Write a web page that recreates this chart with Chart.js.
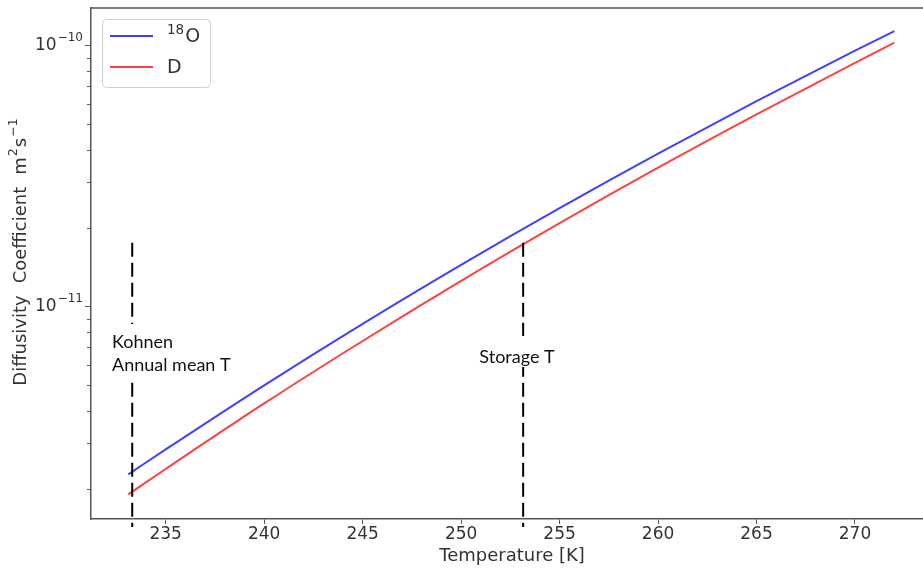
<!DOCTYPE html>
<html lang="en">
<head>
    <meta charset="UTF-8">
    <script src="https://cdn.jsdelivr.net/npm/chart.js"></script>
    <title>Diffusivity</title>
    <style>
        html, body {
            margin: 0;
            padding: 0;
            background: #fff;
            overflow: hidden;
        }
        #wrap {
            width: 923px;
            height: 571px;
        }
    </style>
</head>
<body>
<div id="wrap"><canvas id="diffChart"></canvas></div>

<script>
    // temperature [K] and diffusivity [m2/s]
    const temps = [233.1, 235, 240, 245, 250, 255, 260, 265, 270, 272];
    const d18O = [2.28e-12, 2.84e-12, 5.00e-12, 8.60e-12, 1.447e-11, 2.386e-11, 3.86e-11, 6.13e-11, 9.57e-11, 1.138e-10];
    const dD = [1.91e-12, 2.39e-12, 4.26e-12, 7.39e-12, 1.256e-11, 2.09e-11, 3.41e-11, 5.46e-11, 8.60e-11, 1.027e-10];

    // legend labels as [superscript, main]
    const seriesLabels = [['18', 'O'], ['', 'D']];
    const xTicks = [235, 240, 245, 250, 255, 260, 265, 270];
    const yMajorTicks = [1e-11, 1e-10];

    // vertical markers
    const markerTemps = [233.3, 253.15];
    const markerTop = 1.76e-11;
    const markerTexts = [['Kohnen', 'Annual mean T'], ['Storage T']];

    const axisColor = '#555';
    const textColor = '#333';
    const tickFont = '17px "DejaVu Sans"';

    const toPoints = (xs, ys) => xs.map((x, i) => ({ x: x, y: ys[i] }));

    const extras = {
        id: 'extras',
        afterDraw(chart) {
            const ctx = chart.ctx;
            const area = chart.chartArea;
            const xs = chart.scales.x;
            const ys = chart.scales.y;
            ctx.save();

            // top spine
            ctx.strokeStyle = axisColor;
            ctx.lineWidth = 1.5;
            ctx.beginPath();
            ctx.moveTo(area.left, area.top);
            ctx.lineTo(area.right, area.top);
            ctx.stroke();

            // minor y ticks
            ctx.lineWidth = 1;
            for (let e = -13; e <= -10; e++) {
                for (let m = 2; m <= 9; m++) {
                    const v = m * Math.pow(10, e);
                    if (v < ys.min || v > ys.max) continue;
                    const py = Math.round(ys.getPixelForValue(v)) + 0.5;
                    ctx.beginPath();
                    ctx.moveTo(area.left - 4, py);
                    ctx.lineTo(area.left, py);
                    ctx.stroke();
                }
            }

            // y major labels as 10^n
            ctx.fillStyle = textColor;
            ctx.textBaseline = 'middle';
            yMajorTicks.forEach(v => {
                const py = ys.getPixelForValue(v);
                const exp = '\u2212' + Math.abs(Math.round(Math.log10(v)));
                ctx.font = '12px "DejaVu Sans"';
                const ew = ctx.measureText(exp).width;
                ctx.textAlign = 'right';
                ctx.fillText(exp, area.left - 8, py - 8);
                ctx.font = tickFont;
                ctx.fillText('10', area.left - 8 - ew - 1, py);
            });

            // dashed markers with text boxes
            ctx.strokeStyle = '#000';
            ctx.lineWidth = 2;
            ctx.setLineDash([14, 6]);
            markerTemps.forEach(t => {
                const px = xs.getPixelForValue(t);
                ctx.beginPath();
                ctx.moveTo(px, ys.getPixelForValue(markerTop));
                ctx.lineTo(px, area.bottom + 8);
                ctx.stroke();
            });
            ctx.setLineDash([]);

            ctx.font = '18px Lato';
            ctx.textBaseline = 'middle';
            // Kohnen
            ctx.fillStyle = '#fff';
            ctx.fillRect(108, 324, 134, 57);
            ctx.fillStyle = '#111';
            ctx.textAlign = 'left';
            ctx.fillText(markerTexts[0][0], 112, 342);
            ctx.fillText(markerTexts[0][1], 112, 365);
            // Storage
            ctx.fillStyle = '#fff';
            ctx.fillRect(474, 336, 86, 31);
            ctx.fillStyle = '#111';
            ctx.textAlign = 'center';
            ctx.fillText(markerTexts[1][0], 517, 357);

            // legend
            const lx = 102, ly = 19, lw = 108, lh = 68;
            ctx.fillStyle = 'rgba(255,255,255,0.85)';
            ctx.strokeStyle = '#d0d0d0';
            ctx.lineWidth = 1;
            ctx.beginPath();
            ctx.roundRect(lx + 0.5, ly + 0.5, lw, lh, 4);
            ctx.fill();
            ctx.stroke();
            chart.data.datasets.forEach((ds, i) => {
                const y = 36 + i * 31;
                ctx.strokeStyle = ds.borderColor;
                ctx.lineWidth = 1.8;
                ctx.beginPath();
                ctx.moveTo(110, y);
                ctx.lineTo(153, y);
                ctx.stroke();
                ctx.fillStyle = textColor;
                ctx.textAlign = 'left';
                let tx = 167;
                const sup = seriesLabels[i][0];
                if (sup) {
                    ctx.font = '13.5px "DejaVu Sans"';
                    ctx.fillText(sup, tx, y - 6);
                    tx += ctx.measureText(sup).width + 1;
                }
                ctx.font = '19px "DejaVu Sans"';
                ctx.fillText(seriesLabels[i][1], tx, y + 1);
            });

            // x axis title
            ctx.fillStyle = textColor;
            ctx.font = '18px "DejaVu Sans"';
            ctx.textAlign = 'center';
            ctx.fillText('Temperature [K]', 512, 556);

            // y axis title: words with mathtext-like superscripts
            const big = '18px "DejaVu Sans"';
            const small = '12.6px "DejaVu Sans"';
            const parts = [
                ['Diffusivity', big, 0, 12],
                ['Coefficient', big, 0, 12],
                ['m', big, 0, 1],
                ['2', small, -7, 1],
                ['s', big, 0, 1],
                ['\u22121', small, -7, 0]
            ];
            let total = 0;
            parts.forEach(p => { ctx.font = p[1]; total += ctx.measureText(p[0]).width + p[3]; });
            ctx.translate(21, 252);
            ctx.rotate(-Math.PI / 2);
            ctx.textAlign = 'left';
            let pos = -total / 2;
            parts.forEach(p => {
                ctx.font = p[1];
                ctx.fillText(p[0], pos, p[2]);
                pos += ctx.measureText(p[0]).width + p[3];
            });

            ctx.restore();
        }
    };

    const ctx = document.getElementById('diffChart').getContext('2d');
    const diffChart = new Chart(ctx, {
        type: 'line',
        data: {
            datasets: [{
                label: seriesLabels[0].join(''),
                data: toPoints(temps, d18O),
                borderColor: 'rgba(0, 0, 255, 0.75)',
                borderWidth: 2,
                pointRadius: 0,
                cubicInterpolationMode: 'monotone'
            }, {
                label: seriesLabels[1].join(''),
                data: toPoints(temps, dD),
                borderColor: 'rgba(255, 0, 0, 0.75)',
                borderWidth: 2,
                pointRadius: 0,
                cubicInterpolationMode: 'monotone'
            }]
        },
        options: {
            responsive: true,
            maintainAspectRatio: false,
            animation: false,
            layout: { padding: { left: 0, top: 8, right: 0, bottom: 0 } },
            plugins: {
                legend: { display: false },
                tooltip: { enabled: false }
            },
            scales: {
                x: {
                    type: 'linear',
                    min: 231.207,
                    max: 273.453,
                    afterBuildTicks: s => { s.ticks = xTicks.map(v => ({ value: v })); },
                    afterFit: s => { s.height = 52; },
                    grid: {
                        drawOnChartArea: false,
                        tickLength: 5,
                        tickColor: axisColor,
                        tickWidth: 1
                    },
                    border: { color: axisColor, width: 1.5 },
                    ticks: {
                        color: textColor,
                        font: { family: 'DejaVu Sans', size: 17 },
                        padding: 0,
                        maxRotation: 0
                    }
                },
                y: {
                    type: 'logarithmic',
                    min: 1.537e-12,
                    max: 1.3945e-10,
                    afterBuildTicks: s => { s.ticks = yMajorTicks.map(v => ({ value: v })); },
                    afterFit: s => { s.width = 91; },
                    grid: {
                        drawOnChartArea: false,
                        tickLength: 6,
                        tickColor: axisColor,
                        tickWidth: 1
                    },
                    border: { color: axisColor, width: 1.5 },
                    ticks: {
                        callback: () => '',
                        padding: 0
                    }
                }
            }
        },
        plugins: [extras]
    });
</script>
</body>
</html>
